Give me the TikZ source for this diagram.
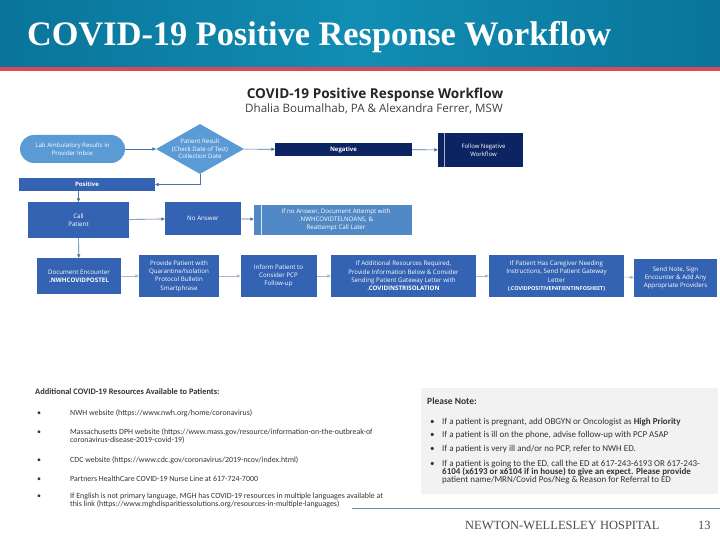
\documentclass[tikz,border=0pt]{standalone}
\usepackage{fontspec}
\setmainfont{Liberation Serif}
\newfontfamily\osans{Open Sans}
\newfontfamily\carl{Carlito}
\usetikzlibrary{shapes.geometric,arrows.meta}
\definecolor{hdA}{HTML}{0A7499}
\definecolor{hdB}{HTML}{118DB3}
\definecolor{hdRed}{HTML}{D84A5A}
\definecolor{lb}{HTML}{5B9BD5}
\definecolor{navy}{HTML}{0C2462}
\definecolor{mb}{HTML}{3563B3}
\definecolor{lb2}{HTML}{5089C5}
\definecolor{arrowc}{HTML}{4E72A8}
\definecolor{arrowl}{HTML}{A9B6CB}
\definecolor{notebg}{HTML}{F2F2F2}
\definecolor{sepc}{HTML}{6A98A3}
\newcommand{\bxf}{\osans\fontsize{6.2}{8.3}\selectfont}
\newcommand{\smf}{\osans\fontsize{6.1}{7.6}\selectfont}
\newcommand{\lstf}{\carl\fontsize{7.9}{8}\selectfont}
\newcommand{\ntf}{\carl\fontsize{9}{8.4}\selectfont}
\begin{document}
\begin{tikzpicture}[x=1pt,y=-1pt,
  every node/.style={inner sep=0pt},
  fbox/.style={fill=#1, text=white, align=center, font=\bxf},
  arr/.style={-{Triangle[length=3.4pt,width=3.2pt]}, line width=0.6pt, draw=arrowc},
  arrlite/.style={-{Triangle[length=3.4pt,width=3.2pt]}, line width=0.6pt, draw=arrowl},
  lsttxt/.style={anchor=base west, align=left, font=\lstf, text=black!80},
  ntxt/.style={anchor=base west, align=left, font=\ntf, text=black!80},
]
\useasboundingbox (0,0) rectangle (720,540);
\fill[white] (0,0) rectangle (720,540);
% header
\shade[left color=hdA, right color=hdA, middle color=hdB] (0,0) rectangle (720,67.5);
\fill[hdRed] (0,67.5) rectangle (720,71.5);
\node[anchor=base west, text=white, font=\fontsize{34.3}{40}\selectfont\bfseries] (title) at (27,46) {COVID-19 Positive Response Workflow};
% subtitle
\node[font=\osans\bfseries\fontsize{13.6}{15}\selectfont, text=black!85] (sub1) at (375,95) {COVID-19 Positive Response Workflow};
\node[font=\osans\fontsize{11.6}{13}\selectfont, text=black!75] (sub2) at (374,108.5) {Dhalia Boumalhab, PA \& Alexandra Ferrer, MSW};
% row 0
\node[fbox=lb, rounded corners=14pt, minimum width=105, minimum height=28, font=\smf] (lab) at (72.5,149) {Lab Ambulatory Results in\\Provider Inbox};
\node[diamond, fill=lb, minimum width=88, minimum height=50] (dia) at (200,149) {};
\node[text=white, align=center, font=\smf] (diat) at (dia.center) {Patient Result\\(Check Date of Test)\\Collection Date};
\node[fbox=navy, minimum width=137, minimum height=13.5, font=\osans\bfseries\fontsize{6}{8}\selectfont] (neg) at (343.5,149.5) {Negative};
\node[fbox=navy, minimum width=85, minimum height=34, font=\osans\fontsize{6}{8}\selectfont] (fnw) at (480.5,150) {\hspace*{6pt}Follow Negative\\\hspace*{6pt}Workflow};
\draw[line width=0.7pt, white!65!navy] ([xshift=7]fnw.north west) -- ([xshift=7]fnw.south west);
\node[fbox=mb, minimum width=136, minimum height=13.5, font=\osans\bfseries\fontsize{6}{8}\selectfont] (pos) at (87,184.5) {Positive};
% row 1
\node[fbox=mb, minimum width=101, minimum height=36] (call) at (78.5,220) {Call\\Patient};
\node[fbox=mb, minimum width=76, minimum height=33] (noans) at (203,218.5) {No Answer};
\node[fbox=lb2, minimum width=158, minimum height=29] (ifno) at (333,220) {\hspace*{6pt}If no Answer, Document Attempt with\\\hspace*{6pt}.NWHCOVIDTELNOANS, \&\\\hspace*{6pt}Reattempt Call Later};
\draw[line width=0.7pt, white!80!lb2] ([xshift=8]ifno.north west) -- ([xshift=8]ifno.south west);
% row 2
\node[fbox=mb, minimum width=84, minimum height=36] (doc) at (79,276) {Document Encounter\\\textbf{.NWHCOVIDPOSTEL}};
\node[fbox=mb, minimum width=80, minimum height=42] (prov) at (179,276) {Provide Patient with\\Quarantine/Isolation\\Protocol Bulletin\\Smartphrase};
\node[fbox=mb, minimum width=76, minimum height=42] (inf) at (278.5,276) {Inform Patient to\\Consider PCP\\Follow-up};
\node[fbox=mb, minimum width=145, minimum height=42] (addl) at (403.5,276) {If Additional Resources Required,\\Provide Information Below \& Consider\\Sending Patient Gateway Letter with\\\textbf{.COVIDINSTRISOLATION}};
\node[fbox=mb, minimum width=135, minimum height=42] (care) at (556.5,276) {If Patient Has Caregiver Needing\\Instructions, Send Patient Gateway\\Letter\\{\fontsize{5.4}{8.3}\selectfont\textbf{(.COVIDPOSITIVEPATIENTINFOSHEET)}}};
\node[fbox=mb, minimum width=83, minimum height=38] (send) at (675.5,278) {Send Note, Sign\\Encounter \& Add Any\\Appropriate Providers};
% connectors
\draw[arr] (lab) -- (dia);
\draw[arr] (dia) -- (neg);
\draw[arr] (neg) -- (fnw);
\draw[arr] (dia.south) |- (pos.east);
\draw[arr] (call.north |- pos.south) -- (call.north);
\draw[arr] (call) -- (noans);
\draw[arr] (noans) -- (ifno);
\draw[arr] (call) -- (doc);
\draw[arrlite] (doc) -- (prov);
\draw[arrlite] (prov) -- (inf);
\draw[arrlite] (inf) -- (addl);
\draw[arrlite] (addl) -- (care);
\draw[arrlite] (care) -- (send);
% resources list
\node[lsttxt, font=\carl\bfseries\fontsize{8.4}{9}\selectfont] (reshead) at (35,394) {Additional COVID-19 Resources Available to Patients:};
\foreach \yy/\nm in {415/b1,434/b2,462/b3,481/b4,498/b5}{
  \node[lsttxt] (\nm) at (37,\yy) {•};
}
\node[lsttxt] (r1) at (70,415) {NWH website (https://www.nwh.org/home/coronavirus)};
\node[lsttxt] (r2) at (70,442) {Massachusetts DPH website (https://www.mass.gov/resource/information-on-the-outbreak-of\\coronavirus-disease-2019-covid-19)};
\node[lsttxt] (r3) at (70,462) {CDC website (https://www.cdc.gov/coronavirus/2019-ncov/index.html)};
\node[lsttxt] (r4) at (70,481) {Partners HealthCare COVID-19 Nurse Line at 617-724-7000};
\node[lsttxt] (r5) at (70,506) {If English is not primary language, MGH has COVID-19 resources in multiple languages available at\\this link (https://www.mghdisparitiessolutions.org/resources-in-multiple-languages)};
% note box
\fill[notebg] (421,388) rectangle (718,494);
\node[ntxt, font=\carl\bfseries\fontsize{9.5}{10}\selectfont] (nhead) at (427,404.5) {Please Note:};
\foreach \yy/\nm in {424/n1,437.5/n2,451.5/n3,466/n4}{
  \node[ntxt] (\nm) at (430,\yy) {•};
}
\node[ntxt] (t1) at (442,424) {If a patient is pregnant, add OBGYN or Oncologist as \textbf{High Priority}};
\node[ntxt] (t2) at (442,437.5) {If a patient is ill on the phone, advise follow-up with PCP ASAP};
\node[ntxt] (t3) at (442,451.5) {If a patient is very ill and/or no PCP, refer to NWH ED.};
\node[ntxt] (t4) at (442,482.8) {If a patient is going to the ED, call the ED at 617-243-6193 OR 617-243-\\\textbf{6104 (x6193 or x6104 if in house) to give an expect. Please provide}\\patient name/MRN/Covid Pos/Neg \& Reason for Referral to ED};
% footer
\draw[sepc, line width=0.9pt] (352,508.5) -- (720,508.5);
\node[anchor=base west, font=\fontsize{12.5}{14}\selectfont, text=black!70] (foot) at (465,529) {NEWTON-WELLESLEY HOSPITAL};
\node[anchor=base west, font=\fontsize{12.5}{14}\selectfont, text=black!70] (pg) at (698,529) {13};
\end{tikzpicture}
\end{document}
